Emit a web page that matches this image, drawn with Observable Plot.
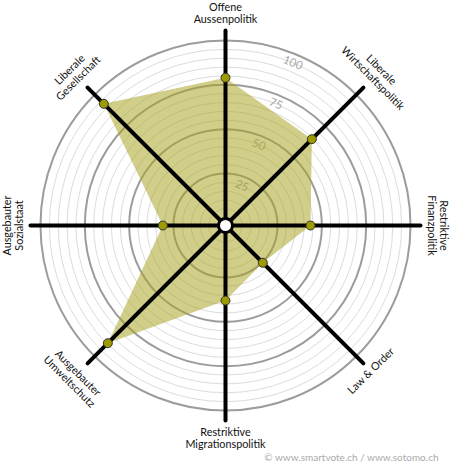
<!DOCTYPE html>
<html>
<head>
<meta charset="utf-8">
<script src="https://cdn.jsdelivr.net/npm/d3@7"></script>
<script src="https://cdn.jsdelivr.net/npm/@observablehq/plot@0.6"></script>
<style>
  html, body { margin: 0; padding: 0; background: #fff; }
  #chart svg { display: block; }
</style>
</head>
<body>
<div id="chart"></div>
<script>
// ---- data ----
const dimensions = [
  "Offene\nAussenpolitik",
  "Liberale\nWirtschaftspolitik",
  "Restriktive\nFinanzpolitik",
  "Law & Order",
  "Restriktive\nMigrationspolitik",
  "Ausgebauter\nUmweltschutz",
  "Ausgebauter\nSozialstaat",
  "Liberale\nGesellschaft"
];
const values = [79, 64.5, 43.6, 25.4, 38, 89.5, 31, 92.7];
const majorTicks = [25, 50, 75, 100];
const minorTicks = [5, 10, 15, 20, 30, 35, 40, 45, 55, 60, 65, 70, 80, 85, 90, 95];
const caption = "© www.smartvote.ch / www.sotomo.ch";

// ---- geometry helpers (polar -> cartesian in value units) ----
const W = 450, H = 470, CX = 225, CY = 225;
const k = 1.773;          // pixels per value unit
const hole = 4.35;        // centre offset in value units
const rv = v => v + hole;
const angleOf = i => i * 360 / dimensions.length;
const toXY = (r, deg) => {
  const a = deg * Math.PI / 180;
  return {x: r * Math.sin(a), y: r * Math.cos(a)};
};
const uprightRot = deg => {
  if (deg <= 90) return deg;
  if (deg < 270 && deg > 90) return deg - 180;
  return deg - 360;
};

const points = dimensions.map((d, i) => ({name: d, value: values[i], ...toXY(rv(values[i]), angleOf(i))}));
const spokes = dimensions.map((d, i) => {
  const end = toXY(110, angleOf(i));
  return {x1: 0, y1: 0, x2: end.x, y2: end.y};
});
const labels = dimensions.map((d, i) => {
  const diag = angleOf(i) % 90 !== 0;
  const single = !d.includes("\n");
  const r = single ? 115.8 : diag ? 121 : 119.8;
  return {text: d, rot: uprightRot(angleOf(i)), ...toXY(r, angleOf(i))};
});
const tickLabels = majorTicks.map(t => ({text: String(t), ...toXY(rv(t) - 5.1, 22.5)}));

const plot = Plot.plot({
  width: W,
  height: H,
  margin: 0,
  x: {domain: [-CX / k, (W - CX) / k], range: [0, W], axis: null},
  y: {domain: [-(H - CY) / k, CY / k], range: [H, 0], axis: null},
  r: {type: "linear", domain: [0, 1], range: [0, k]},
  style: {fontFamily: "Lato, 'Open Sans', sans-serif", background: "#fff"},
  marks: [
    Plot.dot(minorTicks, {x: () => 0, y: () => 0, r: d => rv(d), fill: "none", stroke: "#dcdcdc", strokeWidth: 1}),
    Plot.dot(majorTicks, {x: () => 0, y: () => 0, r: d => rv(d), fill: "none", stroke: "#9c9c9c", strokeWidth: 2}),
    Plot.text(tickLabels, {x: "x", y: "y", text: "text", rotate: 22.5, fill: "#a8a8a8", fontSize: 11.5}),
    Plot.line(points, {x: "x", y: "y", curve: "linear-closed", fill: "#a6a31f", fillOpacity: 0.53, stroke: "none"}),
    Plot.link(spokes, {x1: "x1", y1: "y1", x2: "x2", y2: "y2", stroke: "#000", strokeWidth: 4, strokeLinecap: "round"}),
    Plot.dot([0], {x: () => 0, y: () => 0, r: 7, fill: "#fff", stroke: "#000", strokeWidth: 3}),
    Plot.dot(points, {x: "x", y: "y", r: 4.5, fill: "#9d9b00", stroke: "#333", strokeWidth: 1}),
    Plot.text(labels, {x: "x", y: "y", text: "text", rotate: "rot", fill: "#111", fontSize: 10.8, lineHeight: 1.12}),
    Plot.text([caption], {frameAnchor: "bottom-right", dx: -12, dy: -10, text: d => d, fill: "#aaa", fontSize: 10, textAnchor: "end"})
  ]
});
document.getElementById("chart").appendChild(plot);
</script>
</body>
</html>
